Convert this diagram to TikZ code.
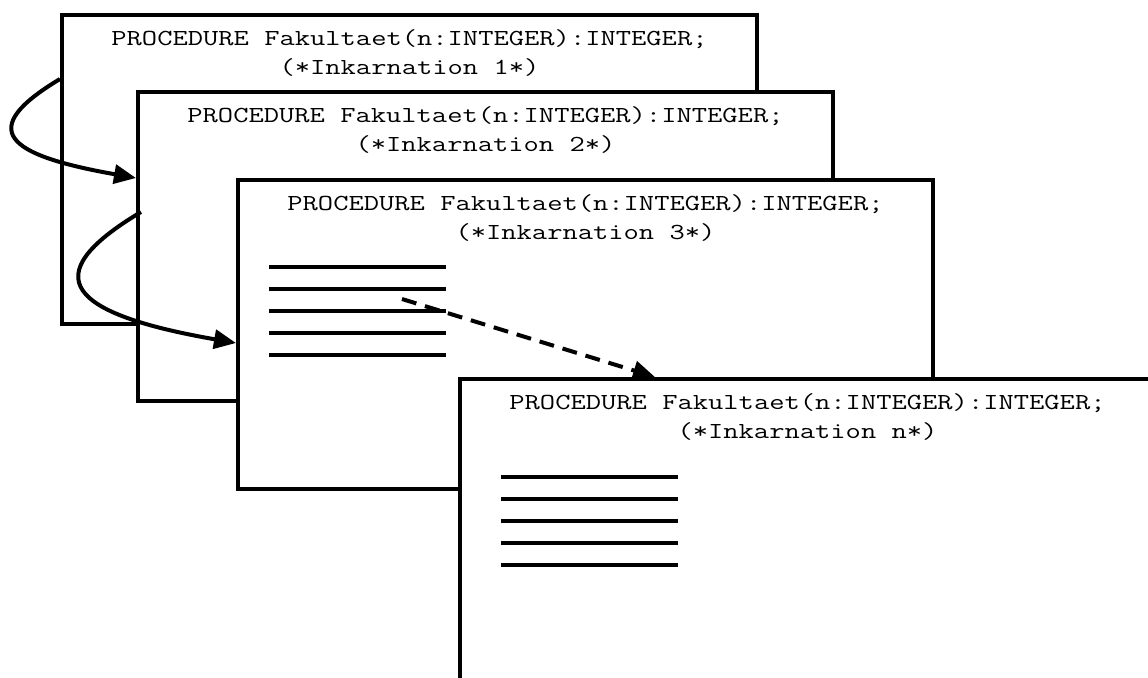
\documentclass[tikz,border=0pt]{standalone}
\usetikzlibrary{positioning, arrows.meta}

% Procedure header, typewriter set a little wider
\newcommand{\prockopf}[1]{\scalebox{1.295}[1]{\begin{tabular}{@{}c@{}}%
    PROCEDURE Fakultaet(n:INTEGER):INTEGER;\\(*Inkarnation #1*)\end{tabular}}}

\begin{document}
\begin{tikzpicture}[x=0.5pt, y=-0.5pt,
        rahmen/.style={draw, fill=white, line width=2pt, inner sep=0pt,
            minimum width=347.5pt, minimum height=154.5pt, anchor=north west},
        kopf/.style={font=\ttfamily\fontsize{11.46}{14.5}\selectfont,
            inner sep=0pt},
        zeile/.style={line width=2pt},
        pfeil/.style={line width=2pt, -{Triangle[length=11pt, width=9.5pt]}}]
        % Page size, the last frame runs off the page
        \useasboundingbox (0,0) rectangle (1148,677);
        \clip (0,0) rectangle (1148,677);

        % Incarnation frames, each one on top of the one before
        \node[rahmen] (ink1) at (60,13) {};
        \node[kopf, below=6pt of ink1.north] (kopf1) {\prockopf{1}};

        \node[rahmen] (ink2) at (136,90) {};
        \node[kopf, below=6pt of ink2.north] (kopf2) {\prockopf{2}};

        \node[rahmen] (ink3) at (236,178) {};
        \node[kopf, below=6pt of ink3.north] (kopf3) {\prockopf{3}};
        % Statement lines
        \foreach \k in {0,...,4}
            \draw[zeile] (269,267+22*\k) -- (446,267+22*\k);

        \node[rahmen] (inkn) at (458,377) {};
        \node[kopf, below=6pt of inkn.north] (kopfn) {\prockopf{n}};
        \foreach \k in {0,...,4}
            \draw[zeile] (501,477+22*\k) -- (678,477+22*\k);

        % Recursive calls
        \coordinate (ruf1) at (60,79);
        \coordinate (ziel1) at (136,178);
        \coordinate (ruf2) at (141,212);
        \coordinate (ziel2) at (236,343);
        \coordinate (ruf3) at (402,299);
        \coordinate (zieln) at (655,377);

        \draw[pfeil] (ruf1) .. controls +(-85,51) and +(-130,-23) .. (ziel1);
        \draw[pfeil] (ruf2) .. controls +(-109,65) and +(-166,-29) .. (ziel2);
        \draw[pfeil, dash pattern=on 7.5pt off 4.5pt] (ruf3) -- (zieln);
    \end{tikzpicture}
\end{document}
